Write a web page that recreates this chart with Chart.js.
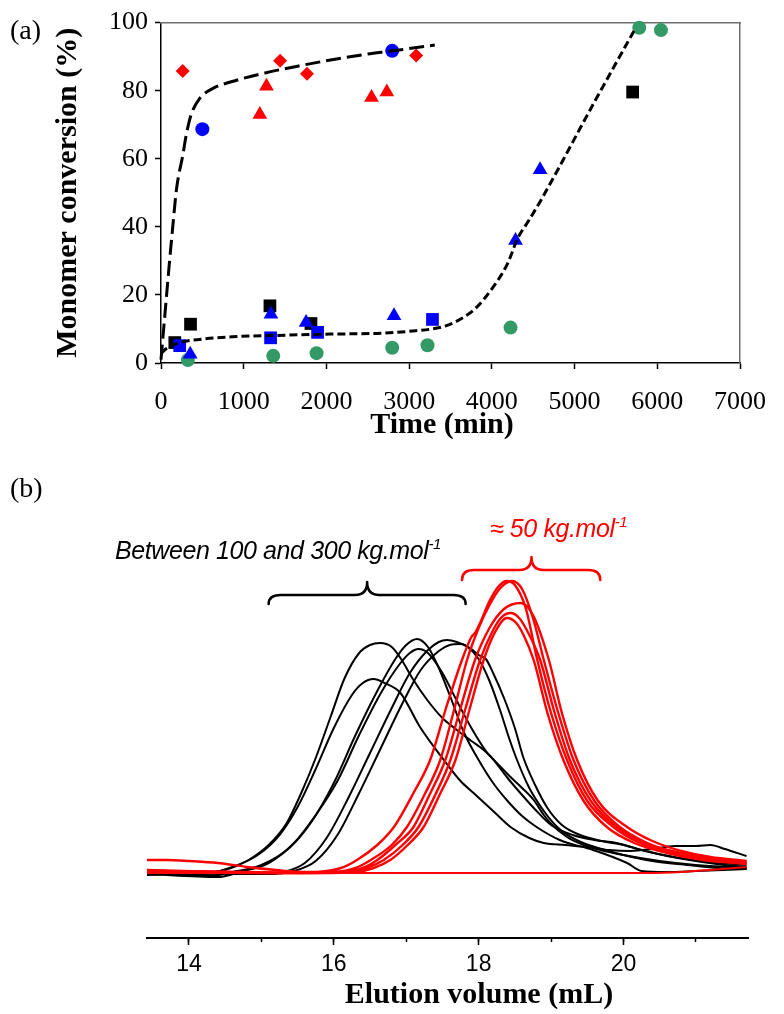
<!DOCTYPE html>
<html>
<head>
<meta charset="utf-8">
<script src="https://cdn.jsdelivr.net/npm/chart.js@4.4.0/dist/chart.umd.min.js"></script>
<style>
  html, body { margin: 0; padding: 0; background: #fff; }
  #page { position: relative; width: 784px; height: 1014px; overflow: hidden; background: #fff; }
  #page canvas { position: absolute; left: 0; }
  #convChart { top: 0; }
  #secChart { top: 440px; }
  .txt { position: absolute; white-space: nowrap; line-height: 1; color: #000; }
  .serif { font-family: "Liberation Serif", "Times New Roman", serif; }
  .panel { font-size: 28px; transform: translateY(-50%); }
  .axisTitle { font-size: 30px; font-weight: bold; transform: translate(-50%, -50%); }
  .note { font-family: "Liberation Sans", Arial, sans-serif; font-style: italic; font-size: 25px; letter-spacing: -0.4px; }
  .note sup { font-size: 15px; vertical-align: 0; position: relative; top: -10px; }
</style>
</head>
<body>
<div id="page">
  <canvas id="convChart" width="784" height="440"></canvas>
  <canvas id="secChart" width="784" height="574"></canvas>
  <div class="txt serif panel" style="left:10px; top:30px;">(a)</div>
  <div class="txt serif panel" style="left:10px; top:488px;">(b)</div>
  <div class="txt serif axisTitle" style="left:442px; top:423px;">Time (min)</div>
  <div class="txt serif axisTitle" style="left:479px; top:993px;">Elution volume (mL)</div>
  <div class="txt note" style="left:115px; top:538px;">Between 100 and 300 kg.mol<sup>-1</sup></div>
  <div class="txt note" style="left:490px; top:516px; color:#ff0000;">≈ 50 kg.mol<sup>-1</sup></div>
</div>
<script>
// ---- (a) conversion vs time ----
const redDiamondTime = [262, 1440, 1765, 3085];
const redDiamondConv = [85.8, 88.8, 85.0, 90.3];
const redTriangleTime = [1195, 1275, 2545, 2730];
const redTriangleConv = [73.0, 81.3, 78.0, 79.6];
const blueCircleTime = [500, 2795];
const blueCircleConv = [68.7, 91.7];
const greenCircleTime = [325, 1357, 1881, 2795, 3222, 4226, 5782, 6044];
const greenCircleConv = [0.9, 2.1, 2.9, 4.5, 5.2, 10.4, 98.5, 97.8];
const blackSquareTime = [167, 357, 1317, 1813, 5702];
const blackSquareConv = [6.0, 11.4, 16.8, 11.6, 79.6];
const blueSquareTime = [226, 1325, 1893, 3282];
const blueSquareConv = [5.1, 7.4, 9.0, 12.8];
const blueTriangleTime = [353, 1329, 1754, 2817, 4286, 4583];
const blueTriangleConv = [2.6, 14.3, 11.9, 13.9, 36.0, 56.8];

// trend lines
const fastFitTime = [0, 50, 100, 142, 187, 225, 258, 306, 365, 464, 623, 861, 1258, 1650, 2050, 2450, 2800, 3310];
const fastFitConv = [1, 15, 29, 40, 51, 56.5, 60.3, 67.1, 73, 77.6, 80.6, 82.7, 85.2, 87.2, 89, 90.6, 91.7, 93.4];
const slowFitTime = [0, 70, 226, 500, 860, 1400, 2050, 2600, 3000, 3400, 3560, 3800, 4000, 4190, 4310, 4450, 4590, 5245, 5740];
const slowFitConv = [2.8, 4.3, 6, 7, 7.7, 8.1, 8.5, 8.7, 9.3, 10.6, 12.1, 16, 21.8, 29.2, 36.5, 42, 47.7, 76.9, 98.5];

const timeTicks = [0, 1000, 2000, 3000, 4000, 5000, 6000, 7000];
const convTicks = [0, 20, 40, 60, 80, 100];

// ---- (b) SEC traces: [elution volume (mL), detector response] ----
const blackTraceA = [[13.42,-2],[13.8,-1],[14.2,0],[14.5,3],[14.8,12],[15.1,28],[15.35,50],[15.55,80],[15.75,115],[15.95,155],[16.15,195],[16.35,220],[16.5,228],[16.64,230],[16.8,226],[16.92,215],[17.1,193],[17.29,173],[17.5,155],[17.7,143],[17.9,132],[18.07,123],[18.25,110],[18.44,96],[18.6,85],[18.76,73],[18.9,58],[18.99,50],[19.22,36],[19.45,28],[19.68,23],[20.0,18],[20.5,12],[21.0,8],[21.7,5]];
const blackTraceB = [[13.42,0],[13.9,-2],[14.3,0],[14.6,6],[14.95,18],[15.25,38],[15.5,66],[15.75,104],[16.0,145],[16.25,178],[16.4,190],[16.55,194],[16.7,190],[16.92,180],[17.19,146],[17.52,113],[17.75,92],[17.93,80],[18.2,62],[18.44,46],[18.7,35],[18.9,30],[19.2,28],[19.5,26],[19.8,23],[20.1,22],[20.4,24],[20.7,27],[21.0,27],[21.2,28],[21.4,24],[21.7,17]];
const blackTraceC = [[13.42,0],[14.3,-3],[14.6,1],[15.0,8],[15.4,26],[15.7,52],[16.0,90],[16.3,138],[16.6,182],[16.85,214],[17.0,228],[17.15,234],[17.3,226],[17.45,205],[17.6,178],[17.8,140],[18.0,113],[18.2,90],[18.4,72],[18.6,57],[18.8,46],[19.12,33],[19.58,23],[20.05,10],[20.25,2],[20.6,1],[21.0,2],[21.7,4]];
const blackTraceD = [[13.42,-1],[14.4,-4],[14.7,1],[15.1,10],[15.45,30],[15.75,58],[16.05,92],[16.35,138],[16.65,180],[16.9,208],[17.05,220],[17.17,224],[17.3,220],[17.5,200],[17.7,172],[17.9,145],[18.1,122],[18.21,113],[18.4,95],[18.6,78],[18.8,62],[19.0,48],[19.3,38],[19.6,33],[19.9,30],[20.2,24],[20.6,17],[21.0,12],[21.4,8],[21.7,6]];
const blackTraceE = [[13.42,0],[15.0,-1],[15.3,1],[15.6,10],[15.9,35],[16.2,75],[16.5,120],[16.8,165],[17.05,200],[17.3,223],[17.45,231],[17.56,233],[17.7,231],[17.85,226],[18.0,214],[18.15,192],[18.3,162],[18.42,135],[18.53,113],[18.7,85],[18.9,62],[19.1,45],[19.35,33],[19.65,25],[20.0,18],[20.4,12],[20.9,8],[21.3,5],[21.7,4]];
const blackTraceF = [[13.42,0],[15.1,-1],[15.45,2],[15.75,12],[16.05,38],[16.35,80],[16.65,125],[16.95,170],[17.2,203],[17.45,222],[17.6,228],[17.75,229],[17.9,224],[18.0,218],[18.1,214],[18.2,200],[18.35,175],[18.5,145],[18.62,115],[18.78,88],[18.95,65],[19.15,48],[19.4,38],[19.7,32],[20.0,28],[20.3,22],[20.7,16],[21.2,11],[21.7,8]];

const redTrace1 = [[13.42,1],[15.0,0],[15.8,1],[16.1,5],[16.32,13],[16.6,28],[16.83,46],[17.1,80],[17.33,113],[17.55,165],[17.77,213],[17.9,236],[17.95,240],[18.02,250],[18.15,272],[18.28,287],[18.39,292],[18.5,288],[18.65,265],[18.81,213],[19.0,160],[19.22,113],[19.5,72],[19.86,46],[20.2,31],[20.6,21],[21.1,14],[21.7,10]];
const redTrace2 = [[13.42,2],[15.2,0],[16.0,1],[16.3,5],[16.51,13],[16.8,28],[17.01,46],[17.25,78],[17.47,113],[17.65,160],[17.84,213],[18.0,245],[18.15,268],[18.3,285],[18.46,292],[18.6,284],[18.75,255],[18.9,213],[19.1,160],[19.31,113],[19.6,72],[19.95,46],[20.3,31],[20.7,21],[21.2,15],[21.7,11]];
const redTrace3 = [[13.42,13],[13.7,13],[14.0,12],[14.4,10],[14.8,6],[15.2,3],[15.6,1],[16.1,1],[16.4,5],[16.6,13],[16.85,28],[17.1,46],[17.32,78],[17.54,113],[17.75,165],[17.95,213],[18.15,245],[18.35,264],[18.58,270],[18.75,258],[18.97,213],[19.15,160],[19.36,113],[19.65,72],[20.05,46],[20.4,32],[20.8,22],[21.2,16],[21.7,12]];
const redTrace4 = [[13.42,3],[14.5,1],[15.5,0],[16.2,1],[16.45,5],[16.69,13],[16.95,28],[17.17,46],[17.4,78],[17.61,113],[17.82,165],[18.02,213],[18.2,243],[18.32,256],[18.44,260],[18.56,255],[18.7,238],[18.85,213],[19.05,160],[19.26,113],[19.55,72],[19.91,46],[20.3,30],[20.8,20],[21.3,13],[21.7,10]];
const redTrace5 = [[13.42,2],[14.8,1],[15.8,0],[16.3,1],[16.55,5],[16.78,13],[17.02,28],[17.24,46],[17.46,78],[17.68,113],[17.88,165],[18.07,213],[18.22,240],[18.39,255],[18.52,250],[18.62,238],[18.76,213],[18.95,160],[19.17,113],[19.45,72],[19.77,46],[20.15,30],[20.6,20],[21.1,13],[21.7,9]];
const redTrace6 = [[13.42,0],[15.0,0],[17.0,0],[19.0,0],[20.3,0],[20.8,1],[21.2,3],[21.7,6]];

const volumeMajorTicks = [14, 16, 18, 20];

// braces over the two groups of traces (volume span, response levels)
const braces = [
  { from: 15.1, to: 17.82, tip: 16.46, line: 278, end: 269, peak: 291, color: '#000000' },
  { from: 17.77, to: 19.68, tip: 18.73, line: 303, end: 293, peak: 316, color: '#ff0000' }
];

Chart.defaults.font.family = '"Liberation Serif", "Times New Roman", serif';
Chart.defaults.color = '#000';

const pts = (xs, ys) => xs.map((x, i) => ({ x: x, y: ys[i] }));
const pairs = arr => arr.map(p => ({ x: p[0], y: p[1] }));
const plain = v => String(v);

function marker(label, xs, ys, style, color, radius) {
  return {
    type: 'scatter',
    label: label,
    data: pts(xs, ys),
    pointStyle: style,
    pointRadius: radius,
    pointBackgroundColor: color,
    pointBorderColor: color,
    pointBorderWidth: 0,
    clip: false
  };
}

function fitLine(label, xs, ys, dash) {
  return {
    type: 'line',
    label: label,
    data: pts(xs, ys),
    borderColor: '#000',
    borderWidth: 3,
    borderDash: dash,
    pointRadius: 0,
    cubicInterpolationMode: 'monotone',
    fill: false,
    clip: false
  };
}

new Chart(document.getElementById('convChart'), {
  type: 'scatter',
  data: {
    datasets: [
      fitLine('fast', fastFitTime, fastFitConv, [15, 6]),
      fitLine('slow', slowFitTime, slowFitConv, [8, 4]),
      marker('blue triangles', blueTriangleTime, blueTriangleConv, 'triangle', '#0000ff', 8.5),
      marker('blue squares', blueSquareTime, blueSquareConv, 'rect', '#0000ff', 9),
      marker('black squares', blackSquareTime, blackSquareConv, 'rect', '#000000', 9),
      marker('blue circles', blueCircleTime, blueCircleConv, 'circle', '#0000ff', 7),
      marker('green circles', greenCircleTime, greenCircleConv, 'circle', '#339966', 7),
      marker('red triangles', redTriangleTime, redTriangleConv, 'triangle', '#ff0000', 8.5),
      marker('red diamonds', redDiamondTime, redDiamondConv, 'rectRot', '#ff0000', 7)
    ]
  },
  options: {
    responsive: false,
    animation: false,
    layout: { padding: { top: 21, right: 35, left: 0, bottom: 0 } },
    plugins: { legend: { display: false }, tooltip: { enabled: false } },
    scales: {
      x: {
        type: 'linear', min: 0, max: 7000,
        afterBuildTicks: s => { s.ticks = timeTicks.map(v => ({ value: v })); },
        ticks: { font: { size: 26 }, padding: 18, maxRotation: 0, color: '#000', callback: plain },
        grid: { drawOnChartArea: false, tickLength: 6, color: '#000', tickWidth: 1.5 },
        border: { color: '#000', width: 1.5 },
        afterFit: s => { s.height = 77; }
      },
      y: {
        type: 'linear', min: 0, max: 100,
        afterBuildTicks: s => { s.ticks = convTicks.map(v => ({ value: v })); },
        ticks: { font: { size: 26 }, padding: 7, color: '#000', callback: plain },
        grid: { drawOnChartArea: false, tickLength: 6, color: '#000', tickWidth: 1.5 },
        border: { color: '#000', width: 1.5 },
        title: { display: true, text: 'Monomer conversion (%)', font: { size: 30, weight: 'bold' }, color: '#000', padding: { top: 50, bottom: 0 } },
        afterFit: s => { s.width = 161; }
      },
      xTop: {
        type: 'linear', position: 'top', min: 0, max: 7000,
        ticks: { display: false }, grid: { display: false },
        border: { color: '#6e6e6e', width: 1.5 },
        afterFit: s => { s.height = 0; }
      },
      yRight: {
        type: 'linear', position: 'right', min: 0, max: 100,
        ticks: { display: false }, grid: { display: false },
        border: { color: '#6e6e6e', width: 1.5 },
        afterFit: s => { s.width = 0; }
      }
    }
  }
});

// curly braces drawn in data units of the SEC chart
const bracePlugin = {
  id: 'braces',
  afterDatasetsDraw(chart) {
    const { ctx, scales: { x, y } } = chart;
    ctx.save();
    ctx.lineWidth = 2.5;
    ctx.lineJoin = 'round';
    ctx.lineCap = 'round';
    braces.forEach(b => {
      const x0 = x.getPixelForValue(b.from), x1 = x.getPixelForValue(b.to);
      const xm = x.getPixelForValue(b.tip);
      const yl = y.getPixelForValue(b.line), ye = y.getPixelForValue(b.end), yt = y.getPixelForValue(b.peak);
      const r = 12;
      ctx.strokeStyle = b.color;
      ctx.beginPath();
      ctx.moveTo(x0, ye);
      ctx.quadraticCurveTo(x0, yl, x0 + r, yl);
      ctx.lineTo(xm - r, yl);
      ctx.quadraticCurveTo(xm, yl, xm, yt);
      ctx.quadraticCurveTo(xm, yl, xm + r, yl);
      ctx.lineTo(x1 - r, yl);
      ctx.quadraticCurveTo(x1, yl, x1, ye);
      ctx.stroke();
    });
    ctx.restore();
  }
};

function trace(arr, color, width) {
  return {
    data: pairs(arr),
    borderColor: color,
    borderWidth: width,
    pointRadius: 0,
    cubicInterpolationMode: 'monotone',
    fill: false
  };
}

new Chart(document.getElementById('secChart'), {
  type: 'line',
  data: {
    datasets: [
      trace(redTrace1, '#ff0000', 2.4),
      trace(redTrace2, '#ff0000', 2.4),
      trace(redTrace3, '#ff0000', 2.4),
      trace(redTrace4, '#ff0000', 2.4),
      trace(redTrace5, '#ff0000', 2.4),
      trace(redTrace6, '#ff0000', 2),
      trace(blackTraceA, '#000000', 2),
      trace(blackTraceB, '#000000', 2),
      trace(blackTraceC, '#000000', 2),
      trace(blackTraceD, '#000000', 2),
      trace(blackTraceE, '#000000', 2),
      trace(blackTraceF, '#000000', 2)
    ]
  },
  plugins: [bracePlugin],
  options: {
    responsive: false,
    animation: false,
    layout: { padding: { top: 120, right: 36, left: 147, bottom: 0 } },
    plugins: { legend: { display: false }, tooltip: { enabled: false } },
    scales: {
      minor: {
        type: 'linear', position: 'bottom', weight: -1, min: 13.42, max: 21.72,
        ticks: { display: false, stepSize: 1, includeBounds: false },
        grid: { drawOnChartArea: false, tickLength: 4, color: '#000', tickWidth: 1.5 },
        border: { display: false },
        afterFit: s => { s.height = 0; }
      },
      x: {
        type: 'linear', position: 'bottom', weight: 1, min: 13.42, max: 21.72,
        afterBuildTicks: s => { s.ticks = volumeMajorTicks.map(v => ({ value: v })); },
        ticks: { font: { family: '"Liberation Sans", Arial, sans-serif', size: 23 }, padding: 6, maxRotation: 0, color: '#000', callback: plain },
        grid: { drawOnChartArea: false, tickLength: 7, color: '#000', tickWidth: 1.5 },
        border: { color: '#000', width: 2 },
        afterFit: s => { s.height = 76; }
      },
      y: {
        type: 'linear', min: -65, max: 313, display: false
      }
    }
  }
});
</script>
</body>
</html>
